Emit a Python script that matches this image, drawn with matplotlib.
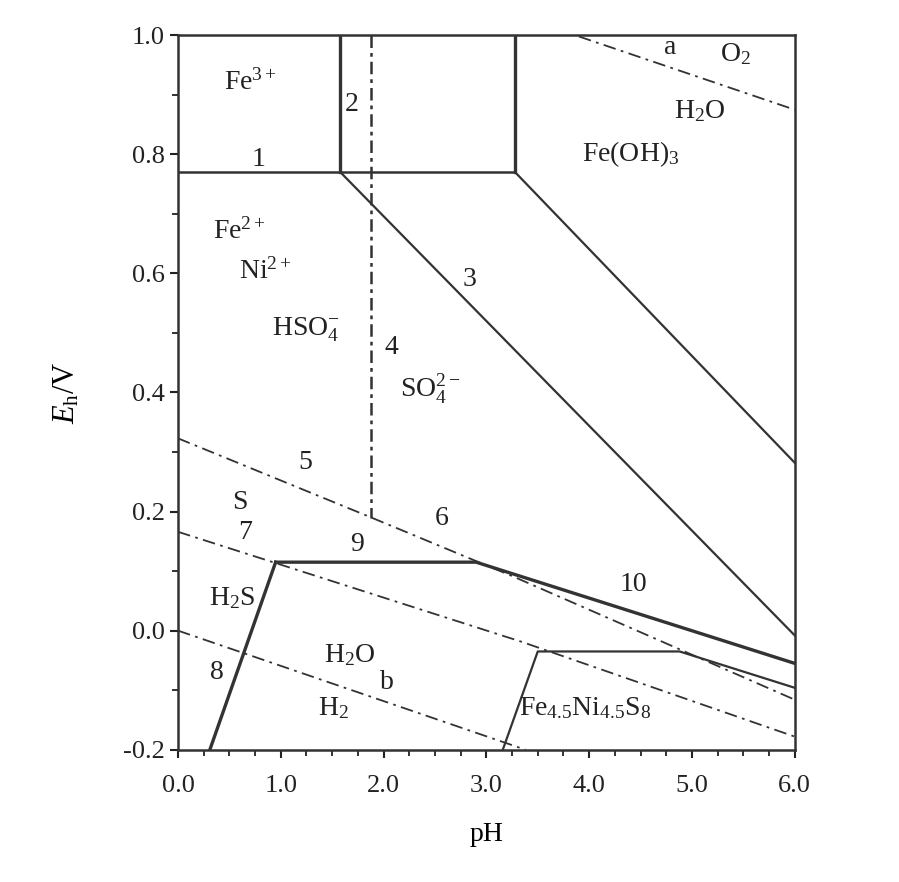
import numpy as np
import matplotlib
matplotlib.use("Agg")
import matplotlib.pyplot as plt
from matplotlib.ticker import MultipleLocator, FormatStrFormatter

# boundary lines (pH, Eh/V)
ph_1 = [0.0, 3.28]
eh_1 = [0.77, 0.77]
ph_2 = [1.58, 1.58]
eh_2 = [0.77, 1.0]
ph_fe = [3.28, 3.28]
eh_fe = [0.77, 1.0]
ph_3 = [1.58, 6.0]
eh_3 = [0.77, -0.008]
ph_fe3 = [3.28, 6.0]
eh_fe3 = [0.77, 0.282]
ph_4 = [1.88, 1.88]
eh_4 = [1.0, 0.19]
ph_56 = [0.0, 1.88, 3.26, 6.0]
eh_56 = [0.323, 0.19, 0.091, -0.116]
ph_7 = [0.0, 3.33, 6.0]
eh_7 = [0.166, -0.018, -0.178]
ph_8 = [0.31, 0.95]
eh_8 = [-0.2, 0.115]
ph_9_10 = [0.95, 2.9, 6.0]
eh_9_10 = [0.115, 0.115, -0.055]
ph_fns = [3.16, 3.5, 4.88, 6.0]
eh_fns = [-0.2, -0.035, -0.035, -0.096]
ph_a = [3.9, 6.0]
eh_a = [0.998, 0.875]
ph_b = [0.0, 3.38]
eh_b = [0.0, -0.2]

# region / line labels
label_text = [r"Fe$^{3+}$", "2", "1", "a", r"O$_2$", r"H$_2$O", r"Fe(OH)$_3$",
              r"Fe$^{2+}$", r"Ni$^{2+}$", "3", r"HSO$_4^{-}$", "4", r"SO$_4^{2-}$",
              "5", "S", "7", "6", "9", "10", r"H$_2$S", r"H$_2$O", "8", "b",
              r"H$_2$", r"Fe$_{4.5}$Ni$_{4.5}$S$_8$"]
label_ph = [0.70, 1.69, 0.78, 4.79, 5.42, 5.08, 4.40,
            0.60, 0.85, 2.84, 1.24, 2.08, 2.45,
            1.24, 0.60, 0.65, 2.57, 1.74, 4.43, 0.53, 1.67, 0.38, 2.03,
            1.51, 3.96]
label_eh = [0.921, 0.884, 0.792, 0.980, 0.968, 0.872, 0.800,
            0.670, 0.603, 0.590, 0.506, 0.476, 0.405,
            0.282, 0.215, 0.165, 0.188, 0.145, 0.077, 0.055, -0.042, -0.071, -0.087,
            -0.130, -0.130]

plt.rcParams["font.family"] = "Liberation Serif"
plt.rcParams["mathtext.fontset"] = "custom"
plt.rcParams["mathtext.rm"] = "Liberation Serif"
plt.rcParams["mathtext.it"] = "Liberation Serif:italic"
plt.rcParams["font.size"] = 19

fig = plt.figure(figsize=(8.99, 8.82), dpi=100)
ax = fig.add_axes([0.198, 0.150, 0.686, 0.810])

c = "#333333"
thick = 2.4
thin = 1.6
dashdot = (0, (7, 3, 1.5, 3))

ax.plot(ph_1, eh_1, color=c, lw=1.8)
ax.plot(ph_2, eh_2, color=c, lw=thick)
ax.plot(ph_fe, eh_fe, color=c, lw=thick)
ax.plot(ph_3, eh_3, color=c, lw=thin)
ax.plot(ph_fe3, eh_fe3, color=c, lw=thin)
ax.plot(ph_4, eh_4, color=c, lw=1.8, linestyle=(0, (5, 2, 1.5, 2)))
ax.plot(ph_56, eh_56, color=c, lw=1.3, linestyle=dashdot)
ax.plot(ph_7, eh_7, color=c, lw=1.3, linestyle=dashdot)
ax.plot(ph_8, eh_8, color=c, lw=thick)
ax.plot(ph_9_10, eh_9_10, color=c, lw=thick)
ax.plot(ph_fns, eh_fns, color=c, lw=thin)
ax.plot(ph_a, eh_a, color=c, lw=1.3, linestyle=dashdot)
ax.plot(ph_b, eh_b, color=c, lw=1.3, linestyle=dashdot)

for t, x, y in zip(label_text, label_ph, label_eh):
    ax.text(x, y, t, ha="center", va="center", fontsize=20, color="#222222")

ax.set_xlim(0, 6)
ax.set_ylim(-0.2, 1.0)
ax.xaxis.set_major_locator(MultipleLocator(1.0))
ax.xaxis.set_minor_locator(MultipleLocator(0.25))
ax.yaxis.set_major_locator(MultipleLocator(0.2))
ax.yaxis.set_minor_locator(MultipleLocator(0.1))
ax.xaxis.set_major_formatter(FormatStrFormatter("%.1f"))
ax.yaxis.set_major_formatter(FormatStrFormatter("%.1f"))
ax.tick_params(which="major", direction="out", length=6, width=1.5, labelsize=19, colors="#222222")
ax.tick_params(which="minor", direction="out", length=4, width=1.3, colors="#222222")
ax.tick_params(axis="x", pad=12)
for s in ax.spines.values():
    s.set_linewidth(1.8)
    s.set_color(c)

ax.set_xlabel("pH", fontsize=20, labelpad=18)
ax.set_ylabel(r"$E_{\mathrm{h}}$/V", fontsize=22, labelpad=30)

fig.savefig("out.png", dpi=100)
